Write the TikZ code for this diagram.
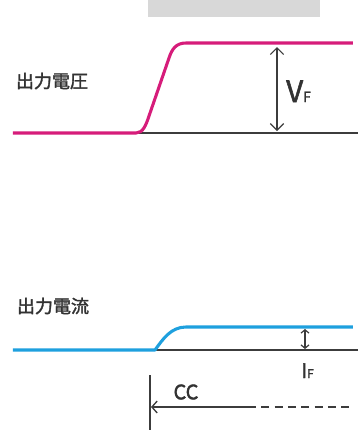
\documentclass[tikz,border=0pt]{standalone}
\usepackage{fontspec}
\setmainfont{Noto Sans CJK JP}
\newfontfamily\medfont[FakeBold=1.8]{Noto Sans CJK JP}
\usetikzlibrary{arrows.meta}
\definecolor{vpink}{RGB}{214,28,122}
\definecolor{iblue}{RGB}{30,160,222}
\definecolor{txtgray}{RGB}{50,50,50}
\definecolor{axisgray}{RGB}{60,60,60}
\definecolor{titlegray}{RGB}{216,216,216}
\tikzset{
    titlebox/.style={rectangle, fill=titlegray, minimum width=129pt, minimum height=12.75pt, inner sep=0pt},
    sigtext/.style={font=\medfont\fontsize{13.5}{15}\selectfont, text=txtgray, inner sep=0pt},
    symtext/.style={font=\medfont, text=txtgray, inner sep=0pt},
    vcurve/.style={line width=2.3pt, vpink, line join=round},
    icurve/.style={line width=2.3pt, iblue, line join=round},
    axis/.style={line width=1pt, axisgray},
    dimarrow/.style={line width=0.9pt, axisgray, {Straight Barb[length=5pt,width=10pt]}-{Straight Barb[length=5pt,width=10pt]}},
    smallarrow/.style={line width=0.9pt, axisgray, {Straight Barb[length=2.5pt,width=6pt]}-{Straight Barb[length=2.5pt,width=6pt]}},
    ccarrow/.style={line width=1pt, axisgray, -{Straight Barb[length=4pt,width=9pt]}},
    ccdash/.style={line width=1pt, axisgray, dash pattern=on 6pt off 4pt}
}
\begin{document}
\begin{tikzpicture}[x=0.75pt, y=-0.75pt]
    \path[use as bounding box] (0,0) rectangle (358,430);

    \node (title) [titlebox] at (234,8.5) {};

    \node (vlabel) [sigtext] at (52,81) {出力電圧};
    \coordinate (v0) at (13,133);
    \coordinate (vs) at (136,133);
    \coordinate (vt) at (186,43);
    \coordinate (ve) at (353,43);
    \coordinate (vr) at (358,133);
    \draw [axis] (vs) -- (vr);
    \draw [vcurve] (v0) -- (vs) .. controls (143,133) and (146,125) .. (149,116) -- (169,58) .. controls (172,49) and (176,43) .. (vt) -- (ve);
    \coordinate (vfTop) at (277,47);
    \coordinate (vfBot) at (277,131);
    \draw [dimarrow] (vfTop) -- (vfBot);
    \node (vf) [symtext, anchor=base west] at (286,102) {{\fontsize{22}{24}\selectfont V}{\fontsize{10.5}{11}\selectfont F}};

    \node (ilabel) [sigtext] at (53,306) {出力電流};
    \coordinate (i0) at (13,350);
    \coordinate (is) at (155,350);
    \coordinate (it) at (186,327);
    \coordinate (ie) at (353,327);
    \coordinate (ir) at (358,350);
    \draw [axis] (is) -- (ir);
    \draw [icurve] (i0) -- (is) .. controls (163,339) and (171,327) .. (it) -- (ie);
    \coordinate (ifTop) at (305,329);
    \coordinate (ifBot) at (305,349);
    \draw [smallarrow] (ifTop) -- (ifBot);
    \node (if) [symtext, anchor=base west] at (301,378) {{\fontsize{15}{16}\selectfont I}{\fontsize{9}{10}\selectfont F}};

    \coordinate (ccTop) at (150,375);
    \coordinate (ccBot) at (150,430);
    \draw [axis] (ccTop) -- (ccBot);
    \coordinate (ccStart) at (248,407);
    \coordinate (ccEnd) at (151,407);
    \coordinate (ccFar) at (350,407);
    \draw [ccarrow] (ccStart) -- (ccEnd);
    \draw [ccdash] (ccStart) -- (ccFar);
    \node (cc) [symtext, font=\medfont\fontsize{15}{16}\selectfont] at (186,392) {CC};
\end{tikzpicture}
\end{document}
